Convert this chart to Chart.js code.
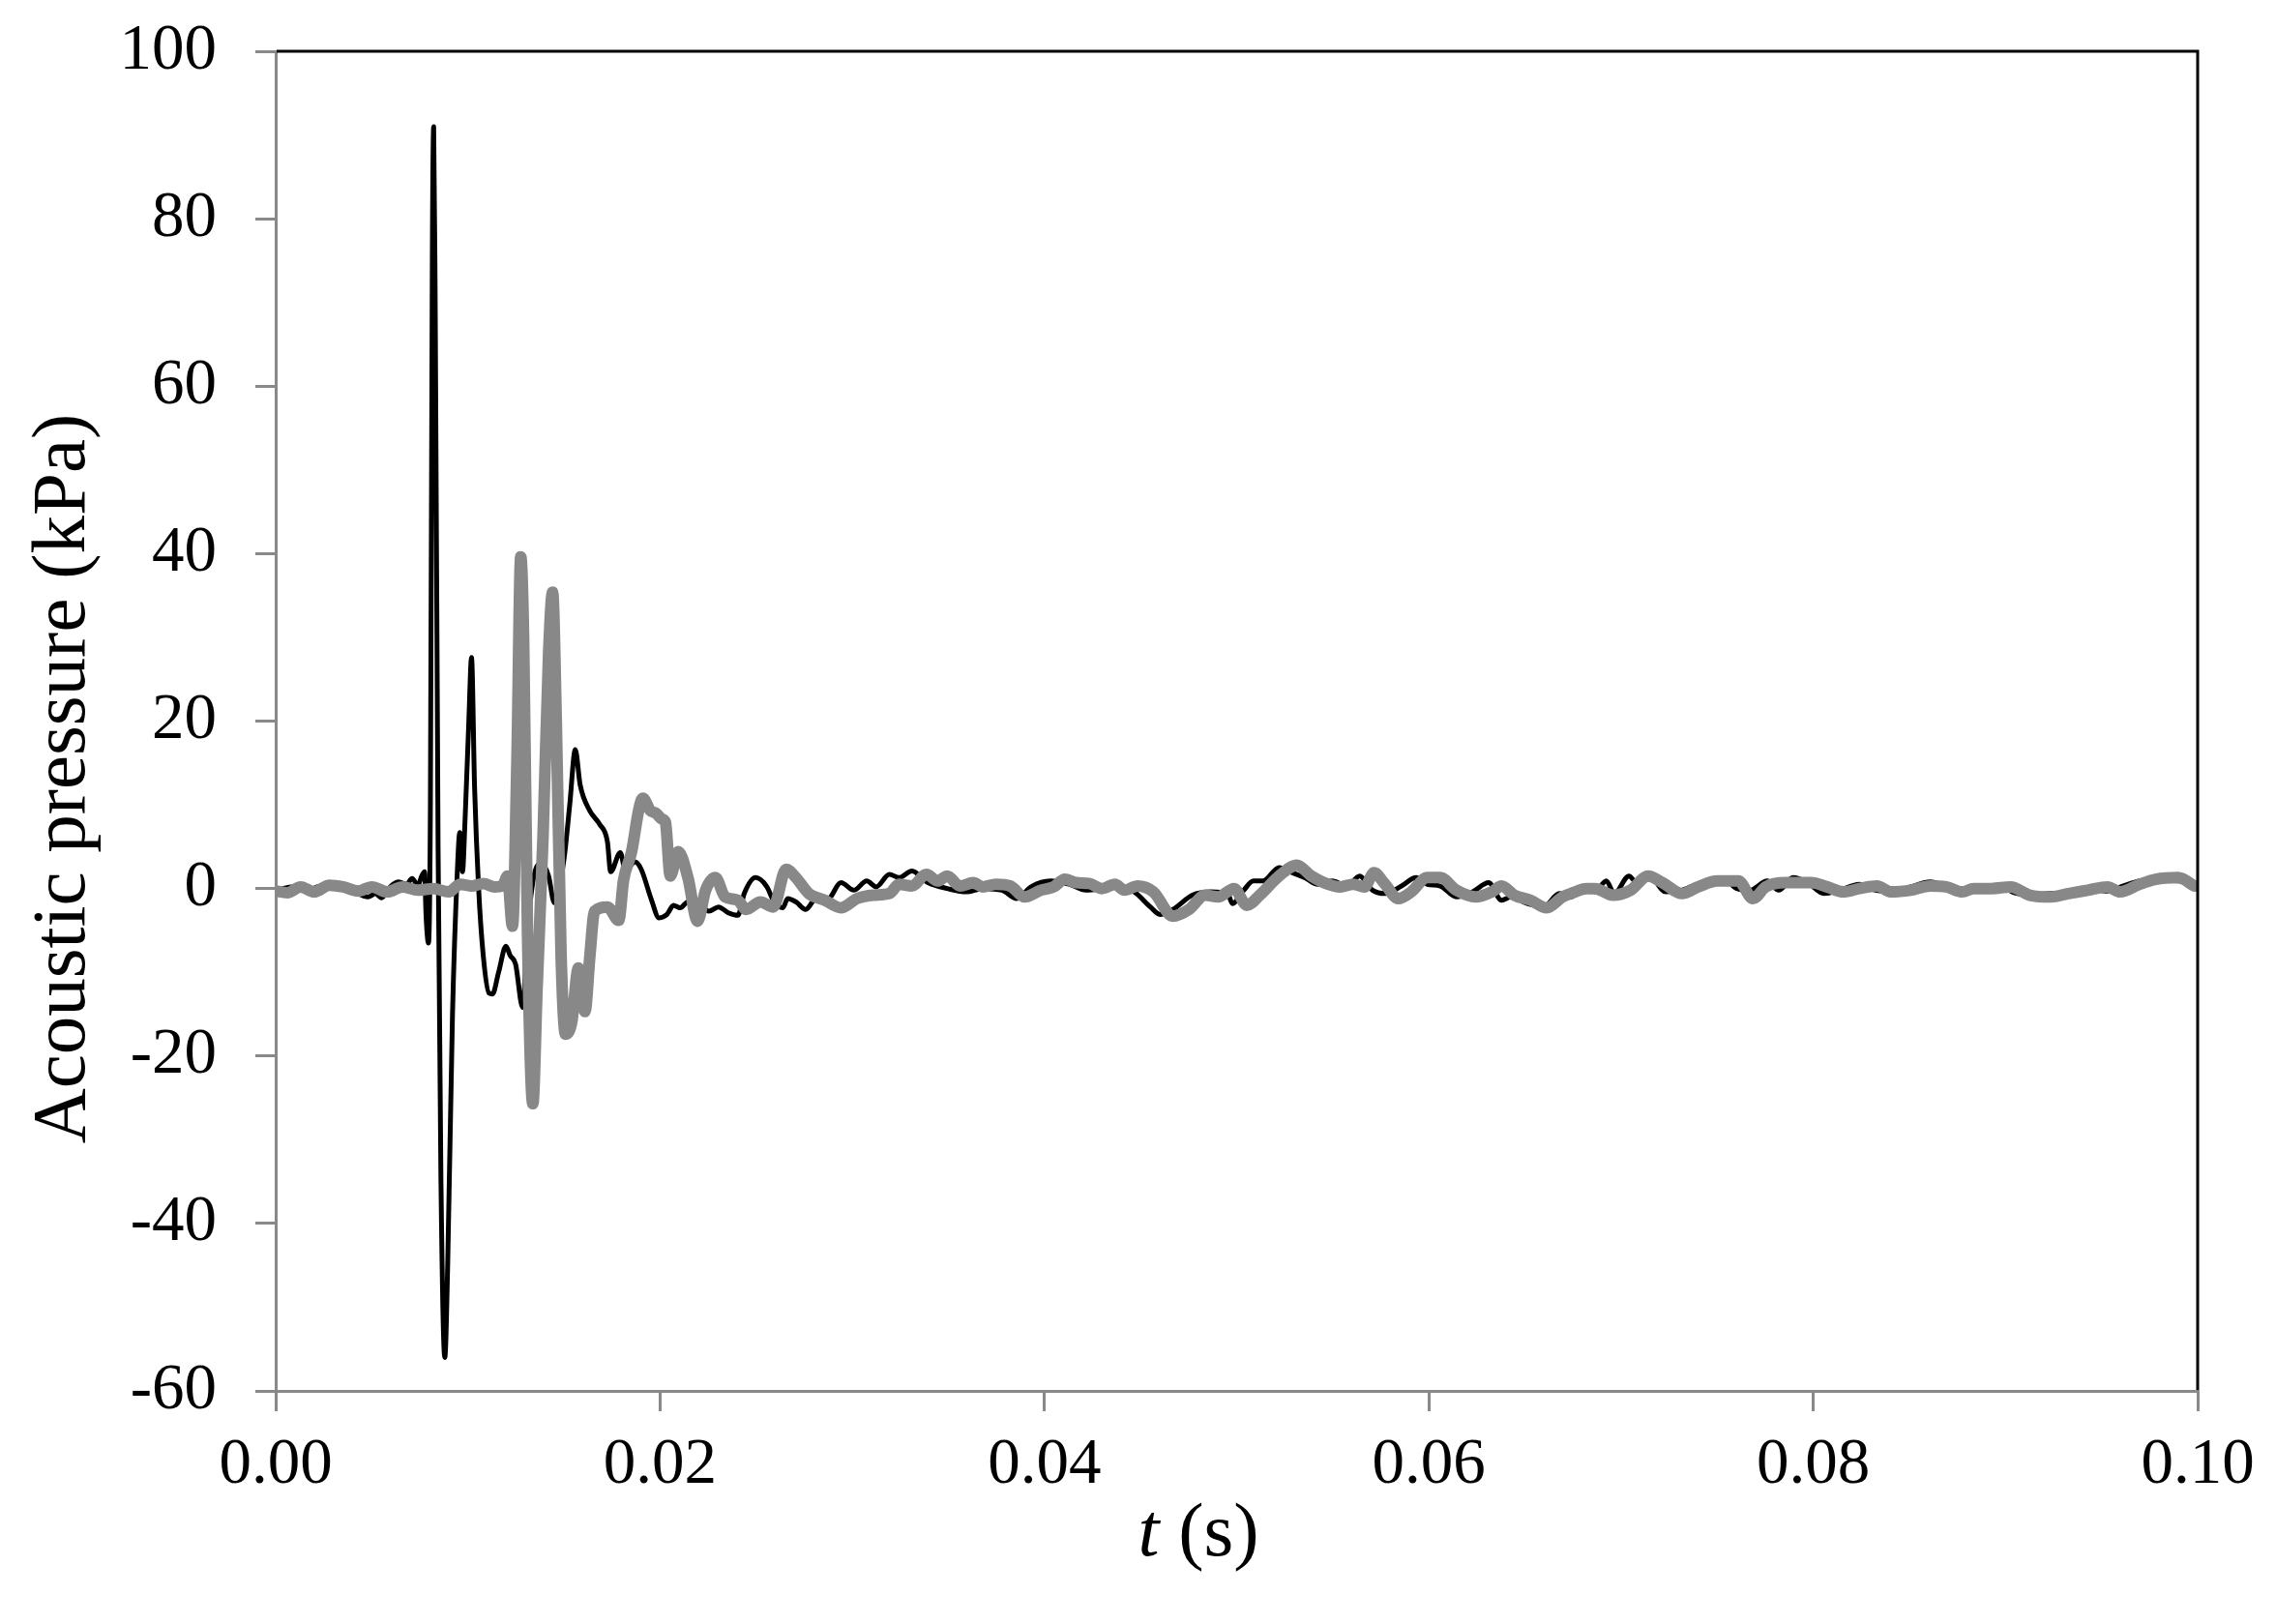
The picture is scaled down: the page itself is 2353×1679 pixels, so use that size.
<!DOCTYPE html>
<html>
<head>
<meta charset="utf-8">
<title>Acoustic pressure</title>
<script src="https://cdn.jsdelivr.net/npm/chart.js@4.4.1/dist/chart.umd.min.js"></script>
<style>
  html, body { margin: 0; padding: 0; background: #fff; }
  canvas { display: block; }
</style>
</head>
<body>
<canvas id="pressureChart" width="2353" height="1679"></canvas>
<script>
// Black (thin) trace: time (s) and pressure (kPa)
const blackTime = [
  0.0000, 0.0008, 0.0016, 0.0024, 0.0032, 0.0040, 0.0048, 0.0052, 0.0055, 0.0060,
  0.0064, 0.0068, 0.0071, 0.0074, 0.0076, 0.00775, 0.00782, 0.00795, 0.00805, 0.00815,
  0.00822, 0.0083, 0.00845, 0.0086, 0.0088, 0.00895, 0.0092, 0.00945, 0.00958, 0.00972,
  0.00985, 0.01005, 0.01019, 0.01035, 0.01056, 0.0108, 0.0111, 0.01128, 0.0116, 0.01198,
  0.0122, 0.01248, 0.01285, 0.0131, 0.01349, 0.01383, 0.0142, 0.0145, 0.0150, 0.0153,
  0.01559, 0.01584, 0.01634, 0.01685, 0.01726, 0.01743, 0.01793, 0.0182, 0.01869, 0.01902,
  0.01953, 0.01995, 0.02036, 0.0207, 0.02104, 0.02145, 0.0219, 0.02254, 0.02304, 0.02355,
  0.02405, 0.02438, 0.02497, 0.02556, 0.02589, 0.02639, 0.02664, 0.02707, 0.02757, 0.02824,
  0.02874, 0.02941, 0.03008, 0.03075, 0.03125, 0.03193, 0.03243, 0.0331, 0.03394, 0.03494,
  0.03595, 0.03679, 0.03779, 0.03855, 0.0393, 0.04031, 0.04131, 0.04215, 0.0430, 0.04367,
  0.04467, 0.04551, 0.04601, 0.04668, 0.04769, 0.04869, 0.04953, 0.04978, 0.05037, 0.05087,
  0.05137, 0.05221, 0.05288, 0.05355, 0.05422, 0.05497, 0.05573, 0.0564, 0.05707, 0.05774,
  0.05858, 0.05934, 0.05992, 0.06059, 0.06143, 0.06227, 0.06311, 0.06378, 0.06428, 0.06512,
  0.06596, 0.06679, 0.0674, 0.06806, 0.06865, 0.06923, 0.06965, 0.07041, 0.07074, 0.07141,
  0.07233, 0.07317, 0.07418, 0.07535, 0.07602, 0.07669, 0.07761, 0.0782, 0.07895, 0.07971,
  0.08055, 0.08139, 0.08239, 0.08323, 0.08407, 0.08507, 0.08608, 0.08709, 0.08809, 0.0891,
  0.08977, 0.09044, 0.09128, 0.09228, 0.0933, 0.0943, 0.0953, 0.0960, 0.0970, 0.0978,
  0.0990, 0.1000
];
const blackPressure = [
  -0.3, 0.2, -0.2, 0.3, 0.1, -0.3, -1.0, -0.6, -1.1, 0.3,
  0.8, 0.5, 1.2, 0.4, 1.5, 2.0, -3.0, -6.5, 10, 75,
  91, 70, 5, -35, -56, -45, -15, 2, 6.7, 2,
  8, 20, 27.6, 12, 0, -8, -12.5, -12.6, -10, -6.9,
  -8, -9, -14.2, -5, 2, 3, 1.5, -1.7, 3.5, 10,
  16.6, 12.4, 9.3, 7.7, 5.6, 2, 4.3, 2.1, 3.2, 2.3,
  -1.2, -3.5, -3.1, -2.0, -2.3, -1.6, -1.6, -2.7, -2.2, -2.9,
  -3.2, -0.6, 1.3, 0.2, -1.4, -2.3, -1.2, -1.6, -2.5, -0.8,
  -1.2, 0.7, -0.2, 0.9, 0.2, 1.7, 1.3, 2.1, 0.7, 0.0,
  -0.4, 0.0, -0.2, -1.2, 0.2, 0.9, 0.5, -0.2, 0.0, 0.3,
  -0.4, -2.2, -3.1, -2.5, -0.8, -0.4, -0.6, -1.8, -0.2, 0.9,
  0.9, 2.5, 1.9, 1.3, 0.5, 0.9, 0.3, 1.5, -0.2, -0.6,
  0.3, 1.3, 0.5, 0.3, -1.0, -0.4, 0.7, -1.4, -1.0, -1.8,
  -2.2, -0.6, -1.0, 0.3, -0.4, 0.9, -0.6, 1.5, 0.9, 1.7,
  -0.4, -0.2, 0.7, 1.1, 0.0, -0.2, 0.9, -0.2, 1.3, 0.7,
  -0.6, -0.2, 0.5, -0.2, -0.4, 0.2, 0.8, 0.2, -0.2, -0.2,
  0.3, -0.5, -0.8, -0.6, -0.5, 0.0, -0.3, 0.2, 0.9, 1.0,
  0.9, 0.3
];

// Grey (thick) trace: time (s) and pressure (kPa)
const greyTime = [
  0.0000, 0.0006, 0.0013, 0.0020, 0.0028, 0.0035, 0.0043, 0.0050, 0.0058, 0.0066,
  0.0074, 0.0082, 0.0090, 0.0096, 0.0102, 0.0108, 0.0114, 0.0118, 0.01206, 0.01232,
  0.01255, 0.01275, 0.0129, 0.0131, 0.01338, 0.0136, 0.01391, 0.0142, 0.01441, 0.0146,
  0.01485, 0.01508, 0.0154, 0.01575, 0.01609, 0.01635, 0.01659, 0.01726, 0.01785, 0.0181,
  0.01852, 0.0189, 0.0191, 0.0195, 0.01978, 0.0201, 0.02028, 0.02053, 0.02095, 0.02145,
  0.02195, 0.02237, 0.02288, 0.02338, 0.02405, 0.02447, 0.02522, 0.02589, 0.02656, 0.02707,
  0.02774, 0.02857, 0.02941, 0.03025, 0.03109, 0.03193, 0.03243, 0.0331, 0.03386, 0.03444,
  0.03494, 0.03561, 0.03629, 0.03679, 0.03746, 0.03822, 0.03897, 0.03981, 0.04048, 0.04106,
  0.04165, 0.04232, 0.0430, 0.04367, 0.04417, 0.04484, 0.04567, 0.04668, 0.04752, 0.04836,
  0.04903, 0.04986, 0.05053, 0.0512, 0.05221, 0.05313, 0.05388, 0.05455, 0.05539, 0.05606,
  0.05665, 0.05715, 0.05766, 0.05841, 0.05908, 0.05992, 0.06059, 0.06143, 0.06244, 0.06328,
  0.06378, 0.06445, 0.06529, 0.06613, 0.06696, 0.0675, 0.0682, 0.06865, 0.06957, 0.07049,
  0.07141, 0.07216, 0.07317, 0.07401, 0.07501, 0.0761, 0.07686, 0.07753, 0.07853, 0.07988,
  0.08072, 0.08156, 0.08239, 0.08331, 0.08407, 0.08507, 0.08608, 0.08692, 0.08776, 0.08834,
  0.08926, 0.09027, 0.09127, 0.09236, 0.09328, 0.09429, 0.0953, 0.09597, 0.09697, 0.09781,
  0.09899, 0.09983
];
const greyPressure = [
  -0.3, -0.5, 0.2, -0.4, 0.4, 0.2, -0.3, 0.2, -0.4, 0.2,
  -0.2, 0.0, -0.4, 0.5, 0.3, 0.6, 0.2, 0.3, 1.5, -4.5,
  15, 39.6, 30, -5, -25.7, -12, 6.2, 28, 35.4, 20,
  -8, -17.4, -16, -9.5, -14.7, -8, -2.7, -2.2, -3.8, 1.0,
  4.4, 9.5, 10.8, 9.3, 9.0, 8.3, 7.9, 1.5, 4.4, 1.3,
  -3.9, -0.2, 1.3, -1.0, -1.4, -2.5, -1.6, -2.2, 2.3, 1.3,
  -0.6, -1.4, -2.3, -1.2, -0.8, -0.6, 0.5, 0.3, 1.7, 0.9,
  1.5, 0.3, 0.7, 0.2, 0.5, 0.3, -1.0, -0.2, 0.2, 1.1,
  0.7, 0.6, 0.0, 0.5, -0.2, 0.3, -0.4, -3.3, -2.5, -0.8,
  -1.0, 0.0, -2.0, -0.8, 1.5, 2.8, 1.5, 0.7, 0.2, 0.5,
  0.2, 1.9, 0.7, -1.2, -0.4, 1.3, 1.3, -0.2, -1.0, -0.4,
  0.3, -0.8, -1.4, -2.3, -1.0, -0.5, 0.0, 0.0, -0.8, -0.2,
  1.5, 0.7, -0.6, 0.2, 0.9, 0.9, -1.2, 0.2, 0.7, 0.7,
  0.2, -0.4, 0.0, 0.3, -0.4, -0.2, 0.3, 0.2, -0.4, 0.0,
  0.0, 0.2, -0.8, -1.0, -0.6, -0.2, 0.2, -0.4, 0.5, 1.1,
  1.3, 0.3
];

// Axis ticks
const xTicks = [0.00, 0.02, 0.04, 0.06, 0.08, 0.10];
const yTicks = [-60, -40, -20, 0, 20, 40, 60, 80, 100];

const axisGrey = "#898989";
const serif = "'Liberation Serif', 'Times New Roman', serif";

function toPoints(times, values) {
  return times.map((t, i) => ({ x: t, y: values[i] }));
}

// Black frame on top/right plus the axis titles
const framePlugin = {
  id: "frame",
  afterDraw(chart) {
    const { ctx, chartArea } = chart;
    ctx.save();
    ctx.strokeStyle = "#000";
    ctx.lineWidth = 3;
    ctx.beginPath();
    ctx.moveTo(chartArea.left + 1, chartArea.top);
    ctx.lineTo(chartArea.right, chartArea.top);
    ctx.lineTo(chartArea.right, chartArea.bottom - 1);
    ctx.stroke();

    ctx.fillStyle = "#000";
    // y title
    ctx.font = "79px " + serif;
    ctx.textAlign = "center";
    ctx.textBaseline = "alphabetic";
    ctx.translate(87, 805);
    ctx.rotate(-Math.PI / 2);
    ctx.fillText("Acoustic pressure (kPa)", 0, 0);
    ctx.setTransform(1, 0, 0, 1, 0, 0);

    // x title: italic t, upright (s)
    const italic = "italic 79px " + serif;
    const upright = "79px " + serif;
    ctx.textAlign = "left";
    ctx.font = italic;
    const wT = ctx.measureText("t").width;
    ctx.font = upright;
    const wS = ctx.measureText(" (s)").width;
    const x = 1239 - (wT + wS) / 2;
    const y = 1608;
    ctx.font = italic;
    ctx.fillText("t", x, y);
    ctx.font = upright;
    ctx.fillText(" (s)", x + wT, y);
    ctx.restore();
  }
};

new Chart(document.getElementById("pressureChart"), {
  type: "line",
  data: {
    datasets: [
      {
        label: "grey",
        data: toPoints(greyTime, greyPressure),
        borderColor: "#888888",
        borderWidth: 12,
        pointRadius: 0,
        borderJoinStyle: "round",
        borderCapStyle: "round",
        cubicInterpolationMode: "monotone",
        order: 0
      },
      {
        label: "black",
        data: toPoints(blackTime, blackPressure),
        borderColor: "#000",
        borderWidth: 5,
        pointRadius: 0,
        borderJoinStyle: "round",
        borderCapStyle: "round",
        cubicInterpolationMode: "monotone",
        order: 1
      }
    ]
  },
  options: {
    responsive: false,
    devicePixelRatio: 1,
    animation: false,
    events: [],
    layout: { padding: { top: 53, right: 81, left: 0, bottom: 0 } },
    plugins: { legend: { display: false }, tooltip: { enabled: false } },
    scales: {
      x: {
        type: "linear",
        min: 0,
        max: 0.1,
        afterFit: (scale) => {
          scale.height = 241;
          scale.paddingLeft = 0;
          scale.paddingRight = 0;
        },
        afterBuildTicks: (scale) => { scale.ticks = xTicks.map((v) => ({ value: v })); },
        grid: { drawOnChartArea: false, drawTicks: true, tickLength: 21, lineWidth: 3, color: axisGrey },
        border: { display: true, color: axisGrey, width: 3 },
        ticks: {
          maxRotation: 0,
          autoSkip: false,
          padding: 16,
          color: "#000",
          font: { family: serif, size: 67 },
          callback: (v) => Number(v).toFixed(2)
        }
      },
      y: {
        min: -60,
        max: 100,
        afterFit: (scale) => {
          scale.width = 285;
          scale.paddingTop = 0;
          scale.paddingBottom = 0;
        },
        afterBuildTicks: (scale) => { scale.ticks = yTicks.map((v) => ({ value: v })); },
        grid: { drawOnChartArea: false, drawTicks: true, tickLength: 21, lineWidth: 3, color: axisGrey },
        border: { display: true, color: axisGrey, width: 3 },
        ticks: {
          padding: 40,
          color: "#000",
          font: { family: serif, size: 67 },
          callback: (v) => String(v)
        }
      }
    }
  },
  plugins: [framePlugin]
});
</script>
</body>
</html>
